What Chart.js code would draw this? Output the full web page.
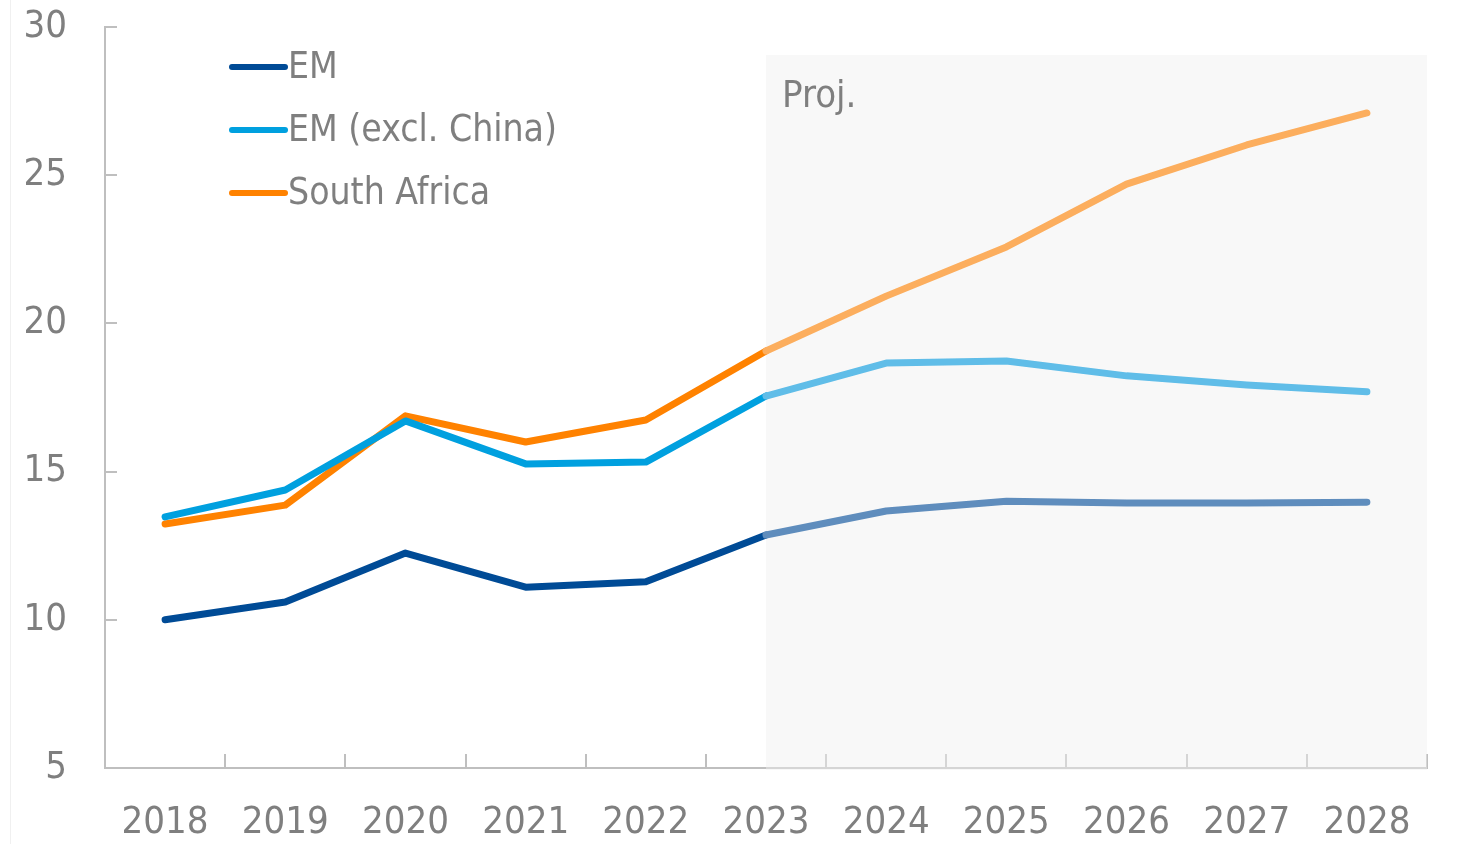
<!DOCTYPE html>
<html lang="en">
<head>
<meta charset="utf-8">
<title>EM vs South Africa</title>
<script src="https://cdn.jsdelivr.net/npm/chart.js@4.4.1/dist/chart.umd.min.js"></script>
<style>
    html, body { margin: 0; padding: 0; background: #ffffff; }
    canvas { display: block; }
</style>
</head>
<body>
<canvas id="debtChart" width="1460" height="844"></canvas>
<script type="text/javascript">

    const years = ["2018", "2019", "2020", "2021", "2022", "2023", "2024", "2025", "2026", "2027", "2028"];
    const emValues = [10.0, 10.6, 12.25, 11.1, 11.28, 12.86, 13.67, 14.0, 13.94, 13.94, 13.97];
    const emExChinaValues = [13.47, 14.38, 16.71, 15.26, 15.32, 17.55, 18.66, 18.73, 18.23, 17.92, 17.69];
    const southAfricaValues = [13.23, 13.87, 16.88, 16.0, 16.74, 19.07, 20.92, 22.58, 24.70, 26.02, 27.10];
    const yTicks = [5, 10, 15, 20, 25, 30];
    const projStartIndex = 5; // 2023 onwards is projection

    const FONT = "'DejaVu Sans Condensed', 'Liberation Sans Narrow', 'Arial Narrow', 'Liberation Sans', sans-serif";
    const textGray = "#7f7f7f";
    const axisGray = "#bfbfbf";

    const series = [
        {label: "EM", data: emValues, color: "#004b96", light: "#5f8dbd"},
        {label: "EM (excl. China)", data: emExChinaValues, color: "#00a0df", light: "#60bde8"},
        {label: "South Africa", data: southAfricaValues, color: "#ff8200", light: "#fcae5e"}
    ];

    // shaded projection area, inward tick marks, legend and "Proj." note
    const decorations = {
        id: "decorations",
        beforeDatasetsDraw(chart) {
            const {ctx, chartArea} = chart;
            const x = chart.scales.x;
            const y = chart.scales.y;
            ctx.save();

            // faint frame line on the far left
            ctx.strokeStyle = "#f0f0f0";
            ctx.lineWidth = 1;
            ctx.beginPath();
            ctx.moveTo(10.5, 0);
            ctx.lineTo(10.5, 844);
            ctx.stroke();

            ctx.strokeStyle = axisGray;
            ctx.lineWidth = 2;
            ctx.beginPath();
            yTicks.forEach(v => {
                if (v === y.min) return;
                const py = Math.round(y.getPixelForValue(v));
                ctx.moveTo(chartArea.left, py);
                ctx.lineTo(chartArea.left + 12, py);
            });
            for (let i = 1; i <= years.length; i++) {
                const px = Math.round(x.getPixelForValue(i - 0.5));
                ctx.moveTo(px, chartArea.bottom);
                ctx.lineTo(px, chartArea.bottom - 14);
            }
            ctx.stroke();

            const shadeLeft = x.getPixelForValue(projStartIndex);
            ctx.fillStyle = "rgba(239, 239, 239, 0.45)";
            ctx.fillRect(shadeLeft, 55, chartArea.right - shadeLeft, chartArea.bottom + 2 - 55);

            ctx.fillStyle = textGray;
            ctx.font = "38px " + FONT;
            ctx.textBaseline = "middle";
            ctx.textAlign = "left";
            ctx.fillText("Proj.", shadeLeft + 16, 97);
            ctx.restore();
        },
        afterDraw(chart) {
            const {ctx} = chart;
            ctx.save();
            ctx.font = "37px " + FONT;
            ctx.textBaseline = "middle";
            ctx.textAlign = "left";
            ctx.lineCap = "round";
            ctx.lineWidth = 6;
            chart.data.datasets.forEach((ds, i) => {
                const rowY = 67 + i * 63;
                ctx.strokeStyle = ds.borderColor;
                ctx.beginPath();
                ctx.moveTo(232, rowY);
                ctx.lineTo(285, rowY);
                ctx.stroke();
                ctx.fillStyle = textGray;
                ctx.fillText(ds.label, 288, rowY + 1);
            });
            ctx.restore();
        }
    };

    // keep label overhang from pushing the plot area around
    function trimPadding(scale) {
        scale.paddingTop = 0;
        scale.paddingBottom = 0;
        scale.paddingLeft = 0;
        scale.paddingRight = 0;
    }

    new Chart("debtChart", {
        type: "line",
        data: {
            labels: years,
            datasets: series.map(s => ({
                label: s.label,
                data: s.data,
                borderColor: s.color,
                borderWidth: 7,
                borderCapStyle: "round",
                borderJoinStyle: "round",
                pointRadius: 0,
                tension: 0,
                segment: {
                    borderColor: c => c.p0DataIndex >= projStartIndex ? s.light : undefined
                }
            }))
        },
        options: {
            responsive: false,
            animation: false,
            events: [],
            layout: {padding: {top: 27, right: 33, left: 0, bottom: 0}},
            plugins: {
                legend: {display: false},
                tooltip: {enabled: false}
            },
            scales: {
                x: {
                    offset: true,
                    grid: {display: false},
                    border: {display: true, color: axisGray, width: 2},
                    ticks: {
                        color: textGray,
                        font: {family: FONT, size: 38},
                        padding: 24,
                        maxRotation: 0
                    },
                    afterFit: scale => { scale.height = 76; trimPadding(scale); }
                },
                y: {
                    min: 5,
                    max: 30,
                    grid: {display: false},
                    border: {display: true, color: axisGray, width: 2},
                    ticks: {
                        stepSize: 5,
                        color: textGray,
                        font: {family: FONT, size: 38},
                        padding: 30
                    },
                    afterFit: scale => { scale.width = 105; trimPadding(scale); }
                }
            }
        },
        plugins: [decorations]
    });

</script>
</body>
</html>
